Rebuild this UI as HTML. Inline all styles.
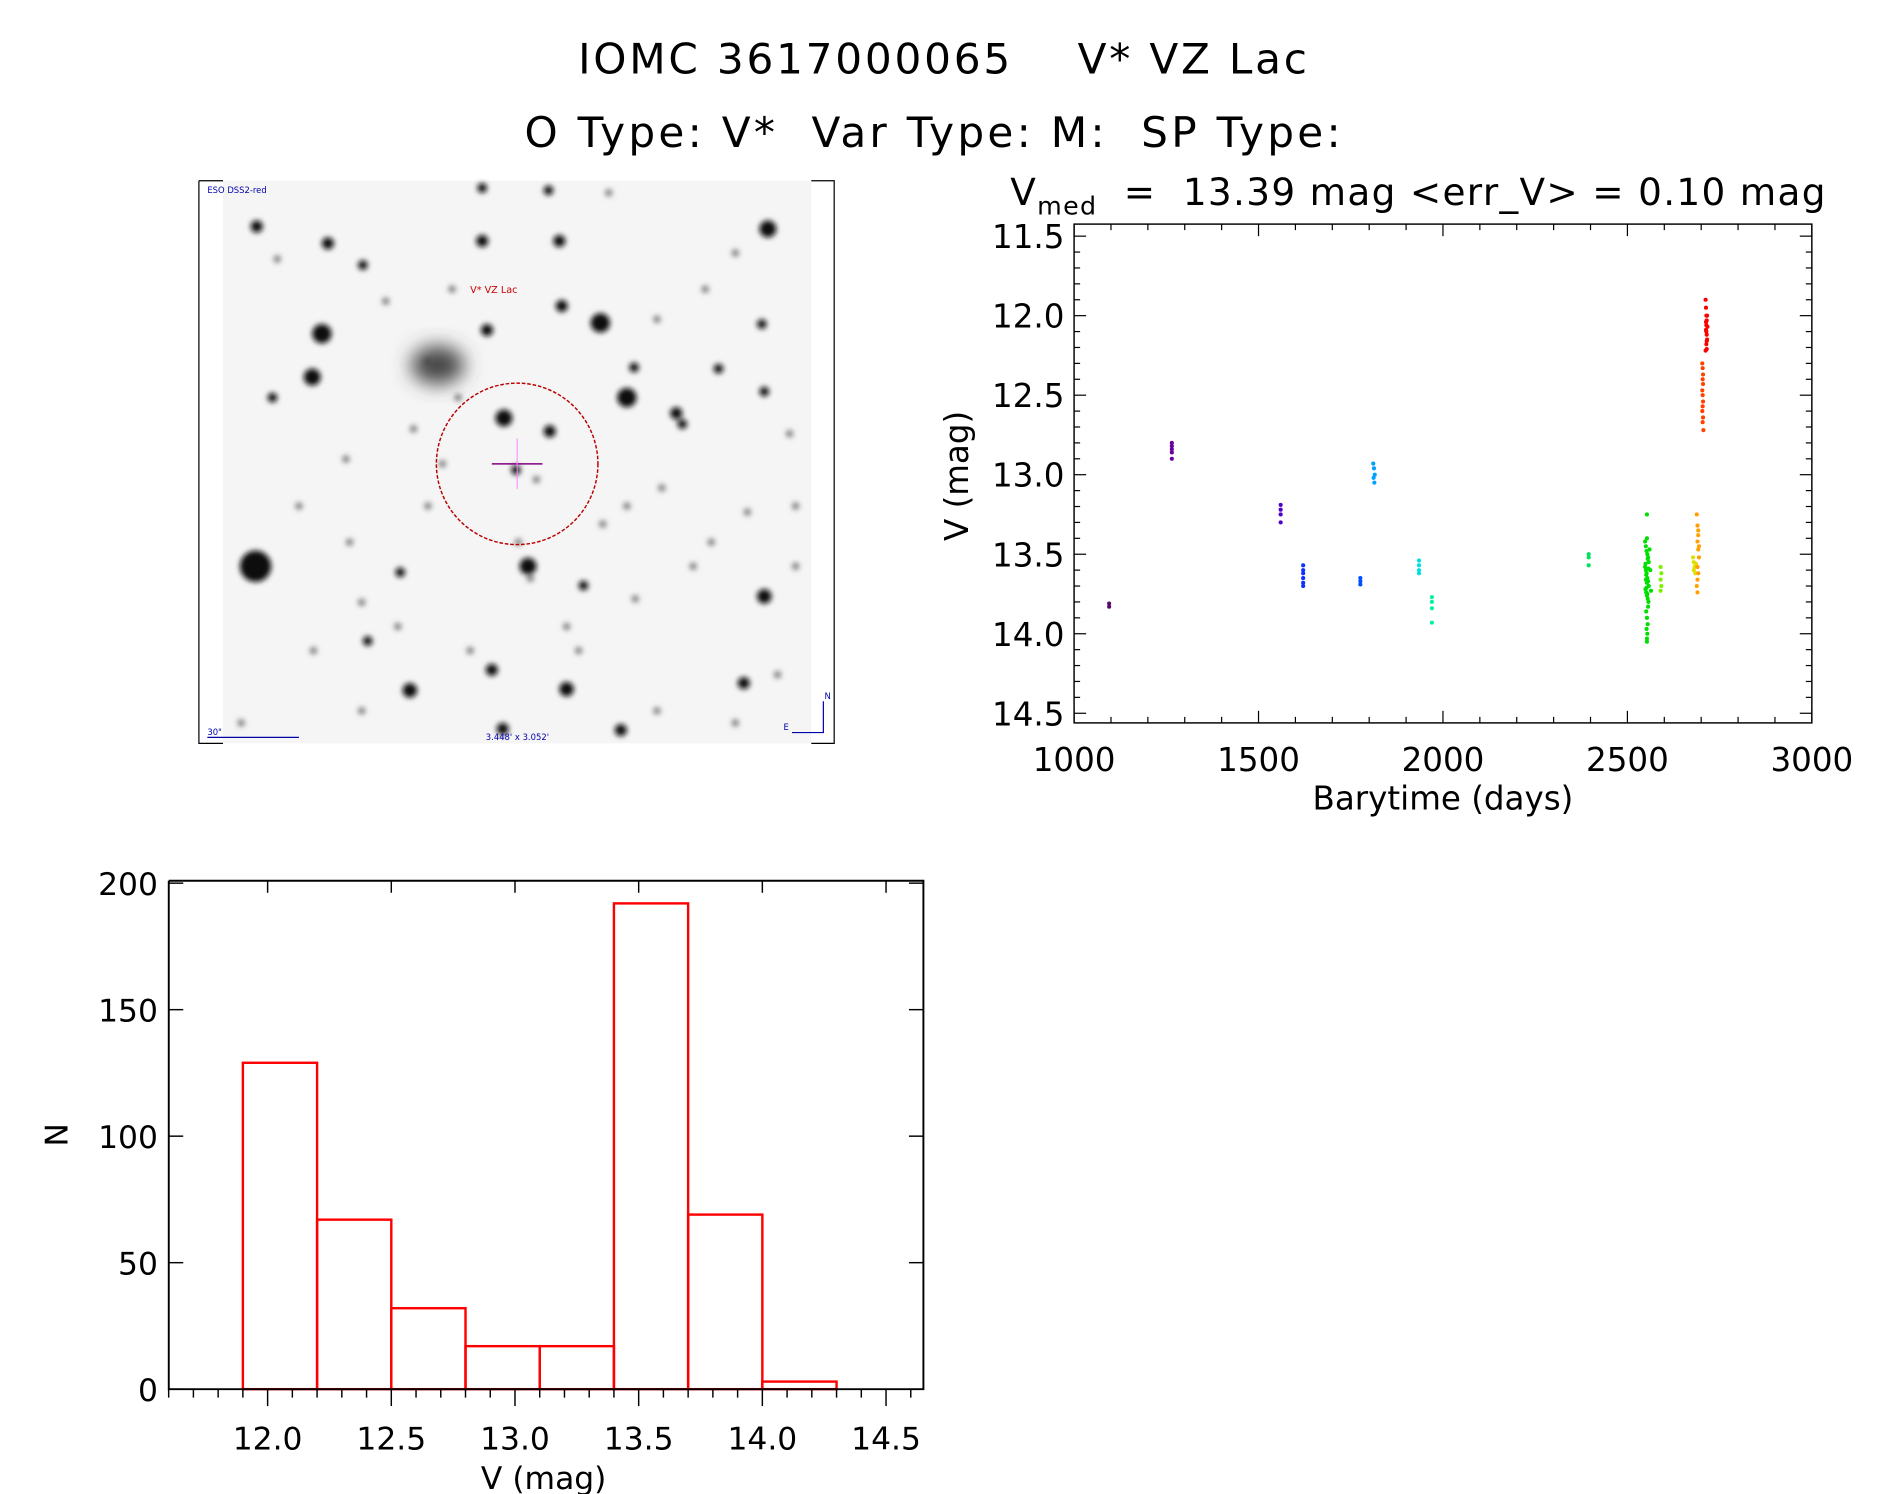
<!DOCTYPE html>
<html><head><meta charset="utf-8"><style>
html,body{margin:0;padding:0;background:#fff;}
svg{display:block;font-family:"DejaVu Sans","Liberation Sans",sans-serif;}
</style></head><body>
<svg id="root" width="1889" height="1494" viewBox="0 0 1567 1240" preserveAspectRatio="none" xmlns="http://www.w3.org/2000/svg">
<defs>
<filter id="blur" x="-50%" y="-50%" width="200%" height="200%"><feGaussianBlur stdDeviation="2.2"/></filter>
<filter id="blur2" x="-50%" y="-50%" width="200%" height="200%"><feGaussianBlur stdDeviation="8"/></filter>
</defs>
<text x="783" y="61" font-size="35" text-anchor="middle" fill="#000" letter-spacing="2.3" xml:space="preserve">IOMC 3617000065    V* VZ Lac</text>
<text x="775" y="122" font-size="35" text-anchor="middle" fill="#000" letter-spacing="2.7" xml:space="preserve">O Type: V*  Var Type: M:  SP Type:</text>

<g id="sky">
<rect x="185" y="150" width="488" height="467" fill="#f5f5f5"/>
<g id="stars" filter="url(#blur)"></g>
<ellipse cx="363" cy="303" rx="22" ry="16" fill="#444" filter="url(#blur2)"/>
<circle cx="429" cy="385" r="67" fill="none" stroke="#b00" stroke-width="1.2" stroke-dasharray="3,1.5"/>
<line x1="408" y1="385" x2="450" y2="385" stroke="#800080" stroke-width="1.2"/>
<line x1="429" y1="364" x2="429" y2="406" stroke="#ff80ff" stroke-width="0.8"/>
<text x="390" y="243" font-size="8" fill="#c00">V* VZ Lac</text>
<text x="172" y="160" font-size="7" fill="#00a">ESO DSS2-red</text>
<text x="172" y="610" font-size="7" fill="#00a">30"</text>
<line x1="172" y1="612" x2="248" y2="612" stroke="#00a" stroke-width="1"/>
<text x="403" y="614" font-size="7" fill="#00a">3.448' x 3.052'</text>
<polyline points="657,608 683,608 683,582" fill="none" stroke="#00a" stroke-width="1"/>
<text x="684" y="580" font-size="7" fill="#00a">N</text>
<text x="650" y="606" font-size="7" fill="#00a">E</text>
<polyline points="165,150 165,617 185,617" fill="none" stroke="#000" stroke-width="1"/>
<polyline points="165,150 185,150" fill="none" stroke="#000" stroke-width="1"/>
<polyline points="673,150 692,150 692,617 673,617" fill="none" stroke="#000" stroke-width="1"/>
</g>

<g id="lc"></g>
<g id="hist"></g>
</svg>
<script>
const NS='http://www.w3.org/2000/svg';
function mk(tag,attrs,parent){const e=document.createElementNS(NS,tag);for(const k in attrs)e.setAttribute(k,attrs[k]);parent.appendChild(e);return e;}

// ---- star field (decorative image) ----
const starX=[212,267,259,418,520,498,637,634,438,340,515,470,404,466,400,272,213,301,464,428,561,617,305,408,226,632,596,526,456,549,634,332,484,527,417,455,400,585,343,287,566,445,367,
 230,248,320,355,380,440,500,545,610,655,660,200,290,330,390,470,590,620,480,260,300,375,520,575,645,505,430,355,300,545,610,660];
const starY=[470,277,313,347,330,268,190,495,470,573,606,572,274,254,200,202,188,220,200,390,343,567,532,556,330,269,306,305,358,405,325,475,486,497,605,158,156,240,356,381,352,398,385,
 215,420,250,420,330,480,435,265,210,360,420,600,450,520,540,520,450,425,540,540,500,240,420,470,560,160,450,300,590,590,600,470];
const starR=[13,8,7,7,8,8,7,6,7,6,5,6,5,5,5,5,5,4,5,4,5,5,4,5,4,4,4,4,5,3,4,4,4,3,5,4,4,3,3,3,4,3,3,
 3,3,3,3,3,3,3,3,3,3,3,3,3,3,3,3,3,3,3,3,3,3,3,3,3,3,3,3,3,3,3,3];
const sg=document.getElementById('stars');
for(let i=0;i<starX.length;i++){
 const c=mk('circle',{cx:starX[i],cy:starY[i],r:starR[i],fill:starR[i]<=3?'#777':'#111'},sg);
 
 
}

// ---- light curve ----
const lc=document.getElementById('lc');
const LX0=891,LX1=1503,LY0=186,LY1=600;
const xMin=1000,xMax=3000,yTop=11.5,yBot=14.5;
const lcXTicks=['1000','1500','2000','2500','3000'];
const lcYTicks=['11.5','12.0','12.5','13.0','13.5','14.0','14.5'];
function lx(t){return LX0+(t-xMin)/(xMax-xMin)*(LX1-LX0);}
function ly(m){return 196+(m-yTop)/(yBot-yTop)*(592-196);}
const groupColors=['#5a0a6a','#6a00a0','#5000c8','#1030ff','#0050ff','#00a0ff','#00e0e0','#00f0a0','#00e060','#00e000','#80f000','#e0e000','#ffa000','#ff4000','#ff0000'];
const groupTimes=[[1095,1095],[1265,1265,1265,1265,1265],[1560,1560,1560,1560],[1621,1621,1621,1621,1621,1621],[1776,1776,1776],[1811,1813,1815,1812,1814],[1935,1935,1935,1935],[1970,1970,1970,1970],[2395,2395,2395],
[2548,2550,2552,2554,2556,2558,2548,2550,2552,2554,2556,2558,2549,2551,2553,2555,2557,2549,2551,2553,2555,2557,2550,2552,2554,2556,2551,2553,2555,2552,2554,2553,2553,2553,2553,2560,2562,2564],
[2590,2592,2590,2592,2590],[2678,2680,2682,2680,2684,2686],[2688,2690,2692,2690,2692,2694,2690,2692,2690,2688,2690,2692,2694],
[2703,2704,2705,2704,2705,2703,2704,2705,2704,2703,2705,2704,2706],[2712,2713,2714,2715,2714,2713,2715,2716,2714,2715,2713,2714,2715,2716,2717,2712]];
const groupMags=[[13.81,13.83],[12.80,12.82,12.84,12.86,12.90],[13.19,13.22,13.25,13.30],[13.57,13.60,13.62,13.65,13.68,13.70],[13.65,13.67,13.69],[12.93,12.96,13.00,13.02,13.05],[13.54,13.57,13.60,13.62],[13.77,13.80,13.84,13.93],[13.50,13.52,13.57],
[13.42,13.45,13.48,13.50,13.52,13.55,13.58,13.60,13.62,13.65,13.67,13.70,13.72,13.74,13.76,13.78,13.80,13.56,13.63,13.68,13.53,13.59,13.66,13.71,13.75,13.83,13.86,13.90,13.94,13.97,14.00,14.03,14.05,13.25,13.40,13.47,13.60,13.73],
[13.58,13.62,13.66,13.70,13.73],[13.52,13.55,13.58,13.60,13.62,13.56],[13.25,13.32,13.38,13.42,13.47,13.52,13.58,13.62,13.66,13.70,13.74,13.35,13.45],
[12.30,12.33,12.37,12.40,12.43,12.47,12.50,12.54,12.57,12.60,12.64,12.67,12.72],[11.90,11.95,12.00,12.03,12.06,12.09,12.12,12.15,12.18,12.21,12.04,12.10,12.16,12.00,12.07,12.22]];
for(let g=0;g<groupTimes.length;g++){
 for(let i=0;i<groupTimes[g].length;i++){
  const c=mk('circle',{cx:lx(groupTimes[g][i]),cy:ly(groupMags[g][i]),r:1.7,fill:groupColors[g]},lc);
  
  
 }
}
const lbox=mk('rect',{x:LX0,y:LY0,width:LX1-LX0,height:LY1-LY0,fill:'none',stroke:'#000','stroke-width':1.2},lc);


for(let v=1000;v<=3000;v+=100){const x=lx(v);const L=(v%500===0)?10:5;
 mk('line',{x1:x,y1:LY1,x2:x,y2:LY1-L,stroke:'#000','stroke-width':1},lc);
 mk('line',{x1:x,y1:LY0,x2:x,y2:LY0+L,stroke:'#000','stroke-width':1},lc);}
for(let k=0;k<=30;k++){const m=11.5+k*0.1;const y=ly(m);const L=(k%5===0)?10:5;
 mk('line',{x1:LX0,y1:y,x2:LX0+L,y2:y,stroke:'#000','stroke-width':1},lc);
 mk('line',{x1:LX1,y1:y,x2:LX1-L,y2:y,stroke:'#000','stroke-width':1},lc);}
lcXTicks.forEach(s=>{const t=mk('text',{x:lx(+s),y:640,'font-size':27,'text-anchor':'middle'},lc);t.textContent=s;
 
 });
lcYTicks.forEach(s=>{const t=mk('text',{x:883,y:ly(+s)+10,'font-size':27,'text-anchor':'end'},lc);t.textContent=s;
 
 });
let t=mk('text',{x:1197,y:672,'font-size':27,'text-anchor':'middle'},lc);t.textContent='Barytime (days)';


t=mk('text',{x:803,y:395,'font-size':27,'text-anchor':'middle',transform:'rotate(-90 803 395)'},lc);t.textContent='V (mag)';


t=mk('text',{x:838,y:170,'font-size':31,'letter-spacing':1.1},lc);
t.innerHTML='V<tspan font-size="21" dy="8">med</tspan><tspan dy="-8" xml:space="preserve">  =  13.39 mag &lt;err_V&gt; = 0.10 mag</tspan>';



// ---- histogram ----
const hg=document.getElementById('hist');
const HX0=140,HX1=766,HY0=731,HY1=1153;
const binEdges=[11.9,12.2,12.5,12.8,13.1,13.4,13.7,14.0,14.3];
const binCounts=[129,67,32,17,17,192,69,3];
const hXTicks=['12.0','12.5','13.0','13.5','14.0','14.5'];
const hYTicks=['0','50','100','150','200'];
function hx(v){return 222+(v-12.0)*(735-222)/2.5;}
function hy(n){return 1153-n*(1153-733)/200;}
for(let i=0;i<binCounts.length;i++){
 const r=mk('rect',{x:hx(binEdges[i]),y:hy(binCounts[i]),width:hx(binEdges[i+1])-hx(binEdges[i]),height:hy(0)-hy(binCounts[i]),fill:'none',stroke:'#f00','stroke-width':2},hg);
 
 
}
mk('polyline',{points:`${HX0},${HY0} ${HX1},${HY0} ${HX1},${HY1} ${HX0},${HY1} ${HX0},${HY0}`,fill:'none',stroke:'#000','stroke-width':1.6},hg);
for(let v=11.6;v<=14.66;v+=0.1){const x=hx(v);const major=Math.abs(v*2-Math.round(v*2))<0.01;const L=major?14:7;
 mk('line',{x1:x,y1:HY1,x2:x,y2:HY1+L,stroke:'#000','stroke-width':1.2},hg);
 if(major)mk('line',{x1:x,y1:HY0,x2:x,y2:HY0+10,stroke:'#000','stroke-width':1.2},hg);}
hYTicks.forEach(s=>{const y=hy(+s);
 mk('line',{x1:HX0,y1:y,x2:HX0+12,y2:y,stroke:'#000','stroke-width':1.2},hg);
 mk('line',{x1:HX1,y1:y,x2:HX1-12,y2:y,stroke:'#000','stroke-width':1.2},hg);
 const tt=mk('text',{x:131,y:y+10,'font-size':26,'text-anchor':'end'},hg);tt.textContent=s;
 
 });
hXTicks.forEach(s=>{const tt=mk('text',{x:hx(+s),y:1203,'font-size':26,'text-anchor':'middle'},hg);tt.textContent=s;
 
 });
t=mk('text',{x:451,y:1236,'font-size':26,'text-anchor':'middle'},hg);t.textContent='V (mag)';


t=mk('text',{x:56,y:942,'font-size':26,'text-anchor':'middle',transform:'rotate(-90 56 942)'},hg);t.textContent='N';


</script>
</body></html>
